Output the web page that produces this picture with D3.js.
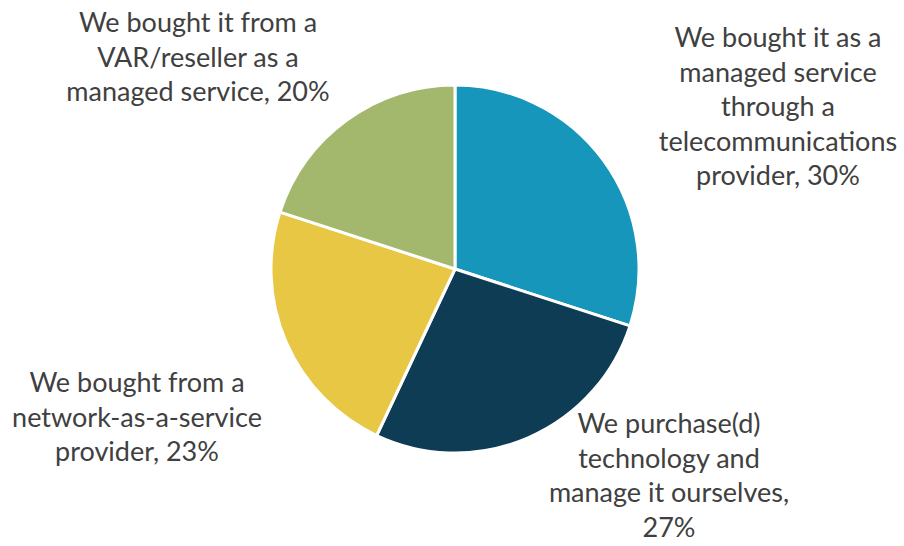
<!DOCTYPE html>
<html>
<head>
<meta charset="utf-8">
<script src="https://cdn.jsdelivr.net/npm/d3@7"></script>
<style>
  body { margin: 0; background: #fff; }
  .label { font-family: Lato, "Source Sans Pro", sans-serif; fill: #404040; }
</style>
</head>
<body>
<svg></svg>
<script>
const categories = [
  "We bought it as a managed service through a telecommunications provider",
  "We purchase(d) technology and manage it ourselves",
  "We bought from a network-as-a-service provider",
  "We bought it from a VAR/reseller as a managed service"
];
const values = [30, 27, 23, 20];
const colors = ["#1796bb", "#0e3c54", "#e8c744", "#a3b86d"];
// how each label is wrapped in the picture
const labelLines = [
  ["We bought it as a", "managed service", "through a", "telecommunications", "provider, 30%"],
  ["We purchase(d)", "technology and", "manage it ourselves,", "27%"],
  ["We bought from a", "network-as-a-service", "provider, 23%"],
  ["We bought it from a", "VAR/reseller as a", "managed service, 20%"]
];

const WIDTH = 904, HEIGHT = 546;
const cx = 455, cy = 269, radius = 184;
const lineHeight = 34.5;
// label anchor (centre x, first baseline) relative to pie centre
const labelAnchor = [
  [323, -222],
  [214, 164],
  [-318, 123],
  [-257, -237]
];

const svg = d3.select("svg").attr("width", WIDTH).attr("height", HEIGHT);
const g = svg.append("g").attr("transform", `translate(${cx},${cy})`);

const pie = d3.pie().sort(null).value(d => d);
const arc = d3.arc().innerRadius(0).outerRadius(radius);

g.selectAll("path")
  .data(pie(values))
  .join("path")
  .attr("d", arc)
  .attr("fill", (d, i) => colors[i])
  .attr("stroke", "#fff")
  .attr("stroke-width", 3)
  .attr("stroke-linejoin", "round");

const labels = g.selectAll("text.label")
  .data(categories)
  .join("text")
  .attr("class", "label")
  .attr("text-anchor", "middle")
  .style("font-size", "27px")
  .attr("x", (d, i) => labelAnchor[i][0])
  .attr("y", (d, i) => labelAnchor[i][1]);

labels.selectAll("tspan")
  .data((d, i) => labelLines[i].map(t => ({ t, x: labelAnchor[i][0] })))
  .join("tspan")
  .attr("x", d => d.x)
  .attr("dy", (d, j) => j === 0 ? 0 : lineHeight)
  .text(d => d.t);
</script>
</body>
</html>
